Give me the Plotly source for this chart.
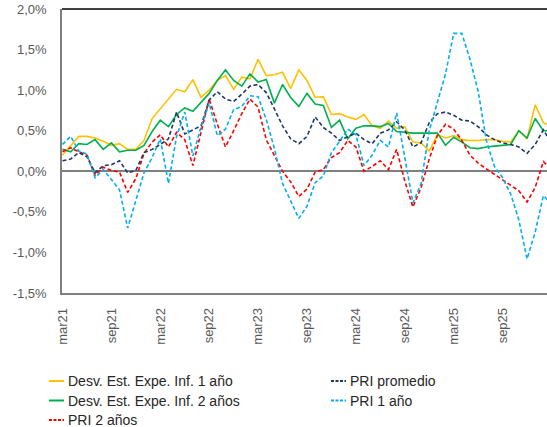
import plotly.graph_objects as go

# Monthly series, mar21 .. mar26 (percent)
desv_inf_1y = [
    0.20, 0.31, 0.43, 0.43, 0.41, 0.37, 0.32, 0.34, 0.27, 0.27,
    0.38, 0.65, 0.77, 0.89, 1.01, 0.98, 1.13, 0.91, 1.00, 1.12,
    1.18, 1.01, 1.16, 1.14, 1.38, 1.18, 1.19, 1.22, 1.02, 1.25,
    1.12, 0.91, 0.92, 0.70, 0.71, 0.67, 0.64, 0.70, 0.56, 0.53,
    0.62, 0.53, 0.55, 0.36, 0.35, 0.25, 0.45, 0.41, 0.44, 0.39,
    0.38, 0.38, 0.39, 0.39, 0.37, 0.36, 0.50, 0.40, 0.82, 0.60, 0.55,
]
desv_inf_2y = [
    0.27, 0.24, 0.34, 0.33, 0.39, 0.27, 0.35, 0.24, 0.26, 0.26,
    0.32, 0.49, 0.63, 0.55, 0.70, 0.78, 0.74, 0.85, 0.96, 1.12,
    1.25, 1.12, 1.05, 1.20, 1.10, 1.13, 0.84, 1.07, 0.91, 0.80,
    0.96, 0.83, 0.81, 0.54, 0.63, 0.40, 0.53, 0.56, 0.56, 0.55,
    0.59, 0.49, 0.48, 0.47, 0.47, 0.47, 0.47, 0.32, 0.42, 0.36,
    0.29, 0.28, 0.30, 0.31, 0.32, 0.33, 0.50, 0.41, 0.65, 0.50, 0.50,
]
pri_promedio = [
    0.13, 0.15, 0.23, 0.18, -0.02, 0.07, 0.08, 0.13, -0.02, 0.01,
    0.23, 0.27, 0.33, 0.40, 0.73, 0.46, 0.51, 0.56, 0.88, 0.98,
    0.89, 0.86, 0.95, 1.05, 1.07, 0.97, 0.77, 0.56, 0.40, 0.34,
    0.43, 0.67, 0.54, 0.47, 0.38, 0.43, 0.47, 0.39, 0.34, 0.47,
    0.51, 0.61, 0.51, 0.30, 0.35, 0.60, 0.71, 0.73, 0.69, 0.63,
    0.62, 0.55, 0.45, 0.39, 0.35, 0.33, 0.30, 0.22, 0.33, 0.51, 0.35,
]
pri_1y = [
    0.33, 0.43, 0.25, 0.21, -0.08, 0.02, -0.10, -0.23, -0.70, -0.36,
    -0.02, 0.17, 0.40, -0.15, 0.43, 0.73, 0.19, 0.55, 0.84, 0.44,
    0.52, 0.76, 0.80, 0.93, 0.92, 0.64, 0.28, -0.15, -0.36, -0.58,
    -0.43, -0.14, -0.06, 0.23, 0.37, 0.52, 0.45, 0.07, 0.20, 0.38,
    0.30, 0.72, 0.17, -0.39, -0.15, 0.50, 0.85, 1.20, 1.70, 1.70,
    1.38, 0.99, 0.38, 0.06, -0.08, -0.28, -0.60, -1.08, -0.75, -0.30, -0.40,
]
pri_2y = [
    0.24, 0.29, 0.24, 0.20, -0.05, 0.05, 0.01, -0.01, -0.26, -0.09,
    0.22, 0.36, 0.45, 0.30, 0.48, 0.39, 0.07, 0.48, 0.89, 0.58,
    0.30, 0.50, 0.71, 0.89, 0.79, 0.39, 0.19, 0.00, -0.13, -0.31,
    -0.22, -0.01, 0.02, 0.17, 0.23, 0.38, 0.30, 0.00, 0.06, 0.13,
    0.02, 0.27, -0.12, -0.44, -0.20, 0.15, 0.44, 0.58, 0.52, 0.38,
    0.20, 0.10, 0.03, -0.04, -0.10, -0.17, -0.24, -0.38, -0.20, 0.12, 0.02,
]

tick_labels = ["mar21", "sep21", "mar22", "sep22", "mar23", "sep23",
               "mar24", "sep24", "mar25", "sep25", "mar26"]
y_ticks = [-1.5, -1.0, -0.5, 0.0, 0.5, 1.0, 1.5, 2.0]
y_tick_text = ["-1,5%", "-1,0%", "-0,5%", "0,0%", "0,5%", "1,0%", "1,5%", "2,0%"]

months = list(range(len(desv_inf_1y)))
tick_pos = months[::6]

FONT = "Liberation Sans, Arial, sans-serif"
AXIS_TXT = "#595959"
DASH = "4px,2.5px"

# name, values, colour, dash, legend column, legend row
series = [
    ("Desv. Est. Expe. Inf. 1 año", desv_inf_1y, "#FFC000", "solid", 0, 0),
    ("Desv. Est. Expe. Inf. 2 años", desv_inf_2y, "#00B050", "solid", 0, 1),
    ("PRI 2 años", pri_2y, "#FF0000", DASH, 0, 2),
    ("PRI promedio", pri_promedio, "#1F3864", DASH, 1, 0),
    ("PRI 1 año", pri_1y, "#00B0F0", DASH, 1, 1),
]

fig = go.Figure()
for name, vals, color, dash, _, _ in series:
    fig.add_trace(go.Scatter(
        x=months, y=vals, name=name, mode="lines",
        line=dict(color=color, width=1.6, dash=dash),
        showlegend=False, hoverinfo="skip",
    ))

W, H = 547, 427
ML, MR, MT, MB = 62, 0, 9, 134
plot_w = W - ML - MR
plot_h = H - MT - MB


def px_to_paper(x, y):
    return (x - ML) / plot_w, (H - MB - y) / plot_h


shapes = [
    # top border of the plot area
    dict(type="line", xref="paper", yref="paper", x0=0, x1=1, y0=1, y1=1,
         line=dict(color="#000000", width=1.5)),
]
annotations = []

# legend below the chart: two columns, rows filled left to right
col_sym_x = [49, 331]
col_txt_x = [66, 348]
row_y = [381, 400.5, 420]
for name, _, color, dash, col, row in series:
    x0, yy = px_to_paper(col_sym_x[col], row_y[row])
    x1, _ = px_to_paper(col_sym_x[col] + 15, row_y[row])
    shapes.append(dict(type="line", xref="paper", yref="paper",
                       x0=x0, x1=x1, y0=yy, y1=yy,
                       line=dict(color=color, width=2,
                                 dash="3px,1.5px" if dash != "solid" else "solid")))
    tx, _ = px_to_paper(col_txt_x[col], row_y[row])
    annotations.append(dict(xref="paper", yref="paper", x=tx, y=yy,
                            text=name, showarrow=False, xanchor="left",
                            yanchor="middle",
                            font=dict(family=FONT, size=14, color="#262626")))

# last month label, sitting at the clipped right edge
annotations.append(dict(xref="x", yref="paper", x=tick_pos[-1], y=0,
                        text=tick_labels[-1], showarrow=False, textangle=-90,
                        xanchor="center", yanchor="top", yshift=-8,
                        font=dict(family=FONT, size=13, color=AXIS_TXT)))

fig.update_layout(
    width=W, height=H,
    margin=dict(l=ML, r=MR, t=MT, b=MB, pad=0),
    paper_bgcolor="white", plot_bgcolor="white",
    font=dict(family=FONT, size=13, color=AXIS_TXT),
    shapes=shapes, annotations=annotations,
    showlegend=False,
)
fig.update_xaxes(
    range=[-0.06, 59.45], tickmode="array", tickvals=tick_pos, ticktext=tick_labels,
    tickangle=-90, ticks="", ticklabelstandoff=8,
    showline=True, linecolor="#808080", linewidth=1.5,
    showgrid=False, zeroline=False,
    tickfont=dict(family=FONT, size=13, color=AXIS_TXT),
)
fig.update_yaxes(
    range=[-1.5, 2.0], tickmode="array", tickvals=y_ticks, ticktext=y_tick_text,
    ticks="", ticklabelstandoff=11,
    showline=True, linecolor="#808080", linewidth=1.5,
    showgrid=False, zeroline=True, zerolinecolor="#7F7F7F", zerolinewidth=2,
    tickfont=dict(family=FONT, size=13, color=AXIS_TXT),
)

fig.write_html("out.html")
